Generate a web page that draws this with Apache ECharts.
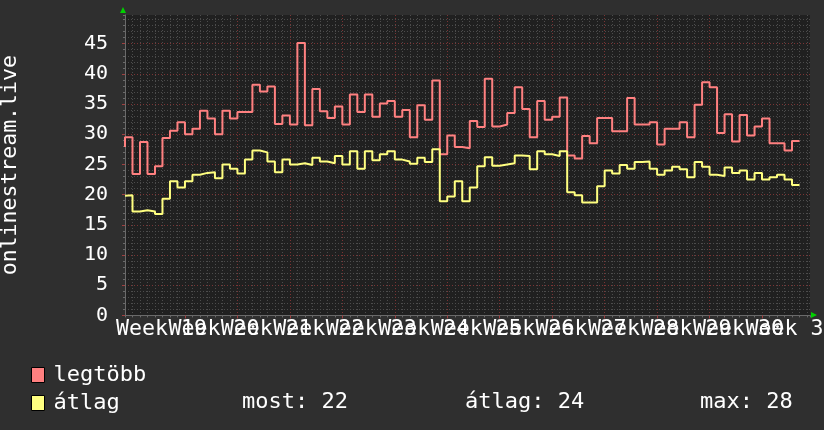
<!DOCTYPE html>
<html>
<head>
<meta charset="utf-8">
<script src="https://cdn.jsdelivr.net/npm/echarts@6/dist/echarts.min.js"></script>
<style>
html,body{margin:0;padding:0;background:#2f2f2f;}
#c{width:824px;height:430px;}
</style>
</head>
<body>
<div id="c"></div>
<script>
// ---- data ----
const weekLabels = ['Week 19','Week 20','Week 21','Week 22','Week 23','Week 24','Week 25',
  'Week 26','Week 27','Week 28','Week 29','Week 30','Week 31'];
const firstDay = -8; // first daily sample, counted in days from the start of Week 20
const seriesNames = ['legtöbb', 'átlag'];
const maxValues = [
  27.9, 29.5, 23.4, 28.7, 23.4, 24.7, 29.4, 30.6,
  32.0, 30.0, 30.9, 33.9, 32.6, 30.0, 33.9, 32.6, 33.7, 33.7,
  38.2, 37.1, 37.9, 31.7, 33.1, 31.6, 45.1, 31.5, 37.5, 33.8,
  32.7, 34.6, 31.6, 36.6, 33.7, 36.6, 32.9, 35.1, 35.5, 32.9,
  34.0, 29.5, 34.8, 32.4, 38.9, 26.7, 29.8, 27.9, 27.7, 32.2,
  31.2, 39.2, 31.3, 31.6, 33.5, 37.8, 34.2, 29.5, 35.5, 32.4,
  32.9, 36.1, 26.5, 26.0, 29.7, 28.5, 32.7, 32.7, 30.5, 30.5,
  36.0, 31.6, 31.6, 32.0, 28.3, 30.9, 30.9, 32.0, 29.5, 34.9,
  38.6, 37.8, 30.2, 33.3, 28.8, 33.2, 29.8, 31.3, 32.6, 28.5,
  28.5, 27.3, 28.9
];
const avgValues = [
  19.8, 19.9, 17.2, 17.4, 17.2, 16.8, 19.3, 22.2,
  21.2, 22.2, 23.3, 23.6, 23.7, 22.7, 25.0, 24.3, 23.5, 25.8,
  27.3, 27.0, 25.5, 23.7, 25.8, 25.0, 25.2, 24.9, 26.1, 25.5,
  25.2, 26.4, 25.0, 27.2, 24.3, 27.2, 25.7, 26.7, 27.2, 25.8,
  25.5, 25.1, 26.1, 25.4, 27.5, 18.9, 19.7, 22.2, 18.9, 21.2,
  24.7, 26.2, 24.8, 25.0, 25.2, 26.5, 26.4, 24.2, 27.2, 26.7,
  26.4, 27.2, 20.4, 19.9, 18.7, 18.7, 21.4, 24.0, 23.5, 24.9,
  24.3, 25.4, 25.5, 24.3, 23.3, 24.0, 24.6, 24.2, 22.9, 25.4,
  24.6, 23.3, 23.1, 24.5, 23.6, 24.0, 22.5, 23.6, 22.5, 22.9,
  23.3, 22.5, 21.6
];

// ---- derived ----
const toPoints = arr => arr.map((v, i) => [firstDay + i, v]);
const weekStarts = weekLabels.slice(1).map((_, i) => 7 * i);
const LABEL_SHIFT = 0.36; // small rightward nudge of the mid-week labels
const labelCenters = weekLabels.map((_, i) => -3.5 + 7 * i + LABEL_SHIFT);
const evenCenters = labelCenters.filter((_, i) => i % 2 === 0);
const oddCenters = labelCenters.filter((_, i) => i % 2 === 1);
const labelFor = v => weekLabels[Math.round((v + 3.5 - LABEL_SHIFT) / 7)];
const cur = avgValues[avgValues.length - 1];
const avg = avgValues.reduce((a, b) => a + b, 0) / avgValues.length;
const mx = Math.max(...avgValues);

const FONT = 'DejaVu Sans Mono';
const X_MIN = -8, X_MAX = 83.4, Y_MIN = 0, Y_MAX = 49.75;
const GRID = {left: 125, right: 14, top: 15, bottom: 114.6};
const minorLine = {show: true, showMinLine: false, showMaxLine: false,
  lineStyle: {color: '#4c4c4c', width: 1, type: [1, 2]}};
const majorLine = {show: true, showMinLine: false, showMaxLine: false,
  lineStyle: {color: '#7a3434', width: 1, type: [1, 2]}};
const xLabelStyle = {show: true, color: '#ffffff', hideOverlap: false,
  showMinLabel: true, showMaxLabel: true, fontFamily: FONT, fontSize: 21.6, margin: 3,
  formatter: labelFor};
const LEG_FONT = '22px "' + FONT + '"';

const chart = echarts.init(document.getElementById('c'), null, {renderer: 'canvas'});
const option = {
  backgroundColor: '#2f2f2f',
  animation: false,
  textStyle: {fontFamily: FONT},
  grid: Object.assign({show: true, backgroundColor: '#202020', borderWidth: 0,
    containLabel: false, outerBoundsMode: 'none'}, GRID),
  xAxis: [
    { type: 'value', min: X_MIN, max: X_MAX, interval: 1,
      axisLine: {show: true, onZero: false, lineStyle: {color: '#6a6a6a'}},
      axisTick: {show: true, length: 2, lineStyle: {color: '#6a6a6a'}},
      axisLabel: {show: false},
      splitLine: minorLine },
    { type: 'value', min: X_MIN, max: X_MAX, position: 'bottom',
      axisLine: {show: false, onZero: false},
      axisTick: {show: true, length: 3, customValues: weekStarts, lineStyle: {color: '#a04040'}},
      axisLabel: Object.assign({customValues: evenCenters}, xLabelStyle),
      splitLine: majorLine },
    { type: 'value', min: X_MIN, max: X_MAX, position: 'bottom',
      axisLine: {show: false, onZero: false},
      axisTick: {show: false},
      axisLabel: Object.assign({customValues: oddCenters}, xLabelStyle),
      splitLine: {show: false} }
  ],
  yAxis: [
    { type: 'value', min: Y_MIN, max: Y_MAX, interval: 1,
      axisLine: {show: true, onZero: false, lineStyle: {color: '#6a6a6a'}},
      axisTick: {show: true, length: 2, lineStyle: {color: '#6a6a6a'}},
      axisLabel: {show: false},
      splitLine: minorLine },
    { type: 'value', min: Y_MIN, max: Y_MAX, interval: 5, position: 'left',
      name: 'onlinestream.live', nameLocation: 'middle', nameGap: 104, nameRotate: 90,
      nameTextStyle: {color: '#ffffff', fontFamily: FONT, fontSize: 21.5},
      axisLine: {show: false, onZero: false},
      axisTick: {show: true, length: 3, lineStyle: {color: '#a04040'}},
      axisLabel: {show: true, color: '#ffffff', fontFamily: FONT, fontSize: 20, margin: 17,
        showMaxLabel: false},
      splitLine: majorLine }
  ],
  legend: {
    orient: 'vertical', left: 31, top: 364, itemGap: 6, padding: 0,
    itemWidth: 13, itemHeight: 15, icon: 'rect',
    itemStyle: {borderColor: '#000', borderWidth: 1},
    textStyle: {color: '#ffffff', fontFamily: FONT, fontSize: 22, padding: [0,0,0,4]},
    data: seriesNames
  },
  graphic: [
    {type: 'text', left: 242, top: 391, style: {text: 'most: ' + cur.toFixed(0), fill: '#fff', font: LEG_FONT}},
    {type: 'text', left: 465, top: 391, style: {text: 'átlag: ' + avg.toFixed(0), fill: '#fff', font: LEG_FONT}},
    {type: 'text', left: 700, top: 391, style: {text: 'max: ' + mx.toFixed(0), fill: '#fff', font: LEG_FONT}},
    {type: 'polygon', shape: {points: [[120, 13], [126, 13], [123, 7]]}, style: {fill: '#00d000'}},
    {type: 'polygon', shape: {points: [[811, 312], [811, 318], [817, 315]]}, style: {fill: '#00d000'}}
  ],
  series: [
    { name: seriesNames[0], type: 'line', step: 'start', showSymbol: false, xAxisIndex: 0, yAxisIndex: 0,
      data: toPoints(maxValues), color: '#ff8080', lineStyle: {width: 2, color: '#ff8080'} },
    { name: seriesNames[1], type: 'line', step: 'start', showSymbol: false, xAxisIndex: 0, yAxisIndex: 0,
      data: toPoints(avgValues), color: '#ffff80', lineStyle: {width: 2, color: '#ffff80'} }
  ]
};
chart.setOption(option);
</script>
</body>
</html>
